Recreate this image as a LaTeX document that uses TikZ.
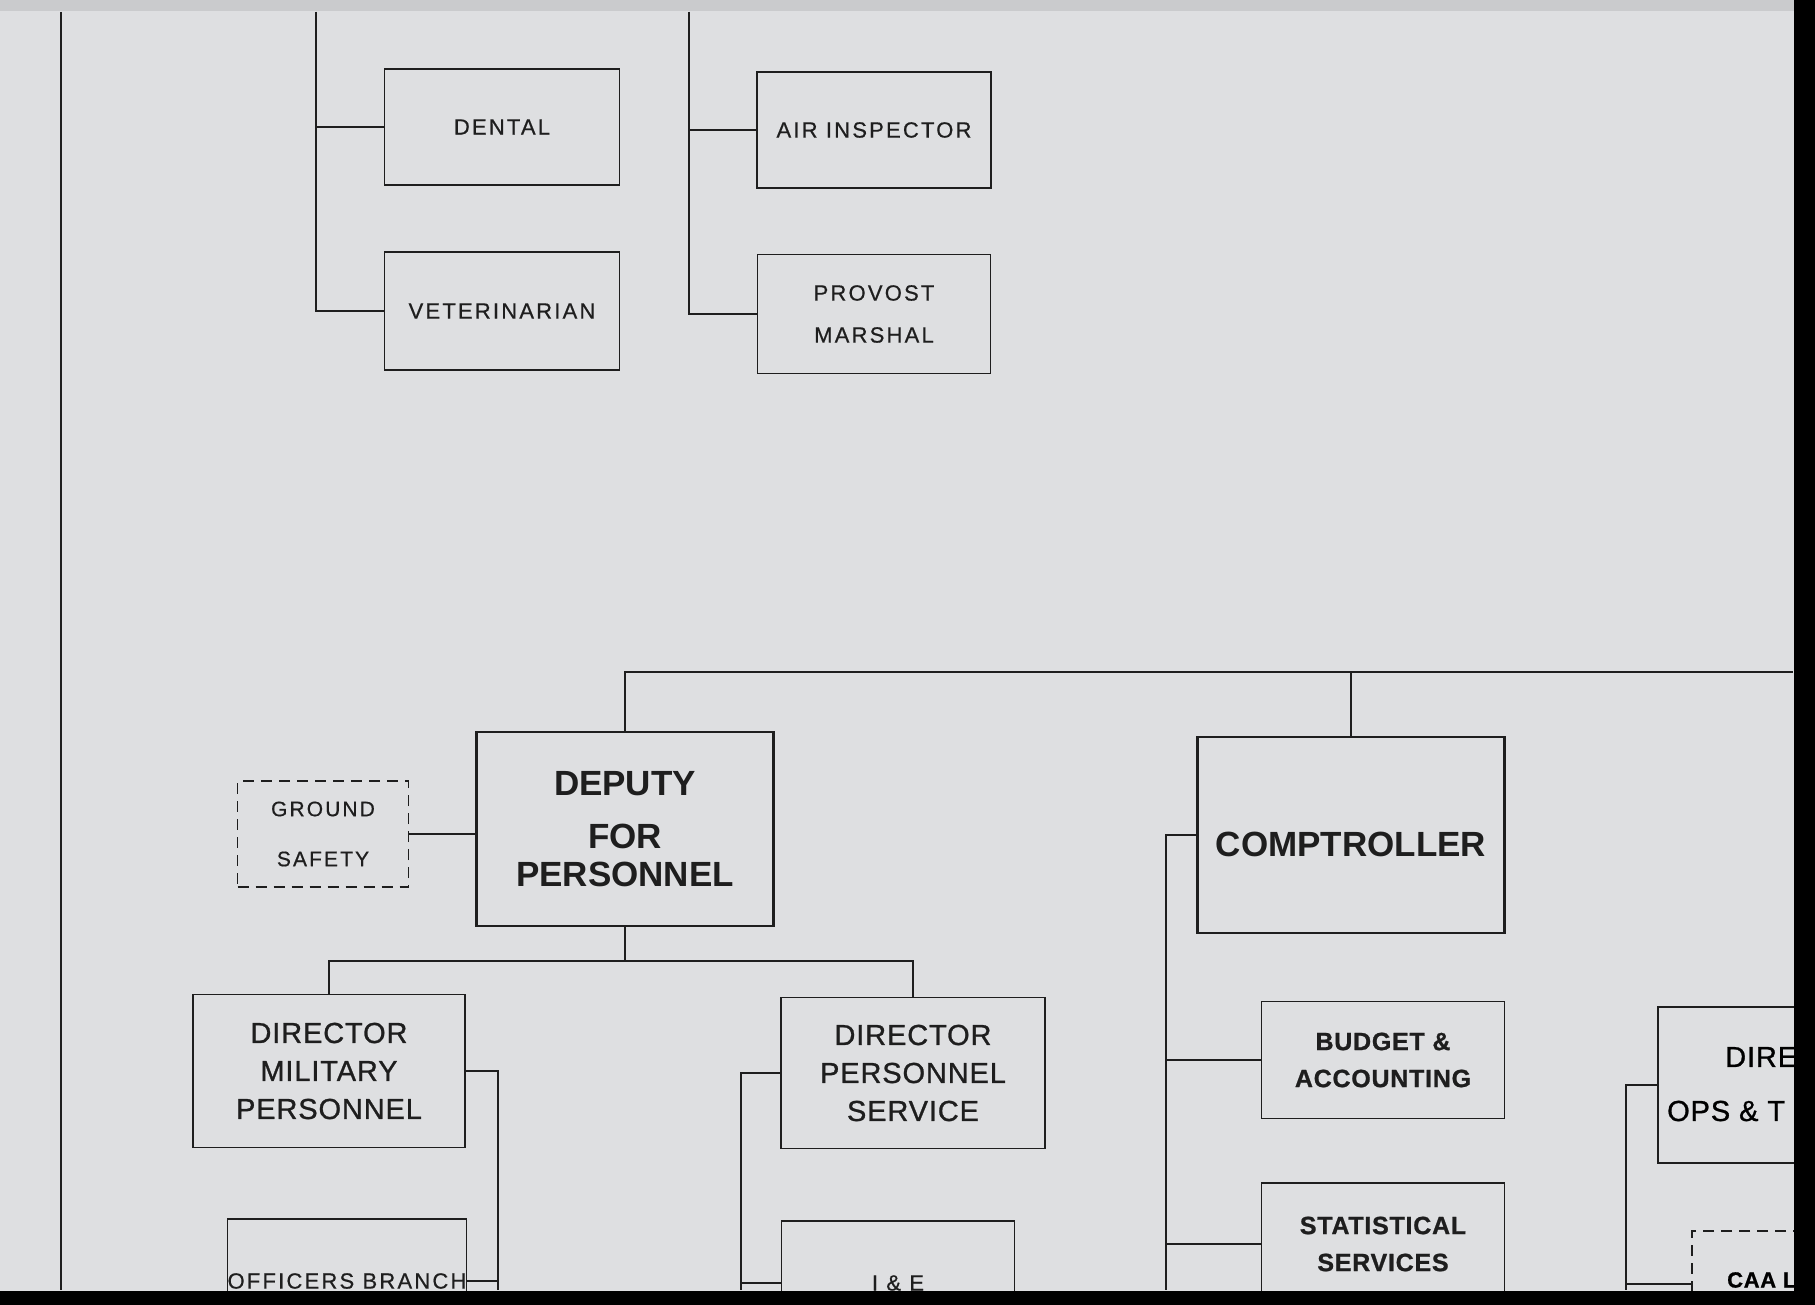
\documentclass[tikz,border=0pt]{standalone}
\usepackage{fontspec}
\setmainfont{Liberation Sans}
\newfontfamily\chartfont[LetterSpace=10,FakeBold=0.6]{Liberation Sans}
\newfontfamily\midfont[LetterSpace=3,FakeBold=0.9]{Liberation Sans}
\newfontfamily\headfont{Liberation Sans}
\usetikzlibrary{positioning}
\definecolor{paper}{HTML}{DEDFE1}
\definecolor{ink}{HTML}{1E1E1E}
\tikzset{unit/.style 2 args={draw=ink,line width=1.6pt,rectangle,inner sep=0pt,
    minimum width=#1pt,minimum height=#2pt,align=center,text=ink},
  staff/.style={dash pattern=on 11pt off 7pt},
  wire/.style={draw=ink,line width=1.3pt},
  lblsmall/.style={font=\chartfont\fontsize{22}{42}\selectfont},
  lblmid/.style={font=\midfont\fontsize{29}{38}\selectfont},
  lblbold/.style={font=\midfont\bfseries\fontsize{25}{37}\selectfont},
  lblhead/.style={font=\headfont\bfseries\fontsize{35}{47}\selectfont,line width=2.2pt}}

\begin{document}
\begin{tikzpicture}[x=1pt,y=-1pt]
\useasboundingbox (0,0) rectangle (1815,1305);
\clip (0,0) rectangle (1815,1305);
\fill[paper] (0,0) rectangle (1815,1305);
\fill[paper!91!black] (0,0) rectangle (1815,11);

% Offices hanging from the top of the sheet.
\node[unit={235}{116},lblsmall] (dental) at (502,127) {DENTAL};
\node[unit={235}{118},lblsmall] (vet) at (502,311) {VETERINARIAN};
\node[unit={234}{116},lblsmall] (airinsp) at (874,130) {AIR INSPECTOR};
\node[unit={233}{119},lblsmall] (provost) at (874,314) {PROVOST\\MARSHAL};

\coordinate (left) at (61,12);
\coordinate (leftend) at (61,1290);
\coordinate (medtop) at (316,12);
\coordinate (insptop) at (689,12);
\draw[wire] (left) -- (leftend);
\foreach \n in {dental,vet} \draw[wire] (medtop) |- (\n.west);
\foreach \n in {airinsp,provost} \draw[wire] (insptop) |- (\n.west);

% Deputy for personnel and comptroller.
\node[unit={297}{194},lblhead] (deputy) at (625,829) {DEPUTY\\[6pt]FOR\\[-9pt]PERSONNEL};
\node[unit={307}{196},lblhead] (comptroller) at (1351,835)
  {\raisebox{-9pt}[\height][0pt]{COMPTROLLER}};
\node[unit={171}{106},staff,lblsmall,font=\chartfont\fontsize{21}{50}\selectfont]
  (ground) at (323,834) {GROUND\\SAFETY};

\coordinate (busend) at (1793,672);
\draw[wire] (deputy.north) |- (busend);
\draw[wire] (comptroller.north) -- (comptroller.north |- busend);
\draw[wire] (ground.east) -- (ground.east -| deputy.west);

% Directorates under the deputy.
\node[unit={272}{153},lblmid] (dmp) at (329,1071) {DIRECTOR\\MILITARY\\PERSONNEL};
\node[unit={264}{151},lblmid] (dps) at (913,1073) {DIRECTOR\\PERSONNEL\\SERVICE};
\node[unit={239}{124},lblsmall] (officers) at (347,1281) {OFFICERS BRANCH};
\node[unit={233}{124},lblsmall] (ie) at (898,1283) {I \& E};

\coordinate (split) at (625,961);
\draw[wire] (deputy.south) -- (split);
\draw[wire] (dmp.north) -- (dmp.north |- split) -| (dps.north);
\coordinate (offline) at (498,1290);
\coordinate (ieline) at (741,1290);
\draw[wire] (dmp.east) -| (offline);
\draw[wire] (officers.east) -- (officers.east -| offline);
\draw[wire] (dps.west) -| (ieline);
\draw[wire] (ie.west) -- (ie.west -| ieline);

% Comptroller's branches.
\node[unit={243}{117},lblbold] (budget) at (1383,1060) {BUDGET \&\\ACCOUNTING};
\node[unit={243}{122},lblbold] (stat) at (1383,1244) {STATISTICAL\\SERVICES};
\coordinate (compline) at (1166,1290);
\draw[wire] (comptroller.west) -| (compline);
\foreach \n in {budget,stat} \draw[wire] (\n.west) -- (\n.west -| compline);

% Cut off at the right edge.
\node[unit={400}{156}] (dire) at (1858,1085) {};
\node[lblmid,anchor=west,inner sep=0pt] (direa) at (1725,1057) {DIRE};
\node[lblmid,anchor=west,inner sep=0pt] (direb) at (1667,1111) {OPS \& T};
\node[unit={300}{106},staff] (caa) at (1842,1284) {};
\node[lblbold,font=\midfont\bfseries\fontsize{22}{30}\selectfont,anchor=west,inner sep=0pt]
  (caalab) at (1727,1280) {CAA L};
\coordinate (direline) at (1626,1290);
\draw[wire] (dire.west) -| (direline);
\draw[wire] (caa.west) -- (caa.west -| direline);

% Film edges.
\fill[black] (0,1291) rectangle (1815,1305);
\fill[black] (1794,0) rectangle (1815,1305);
\end{tikzpicture}
\end{document}
